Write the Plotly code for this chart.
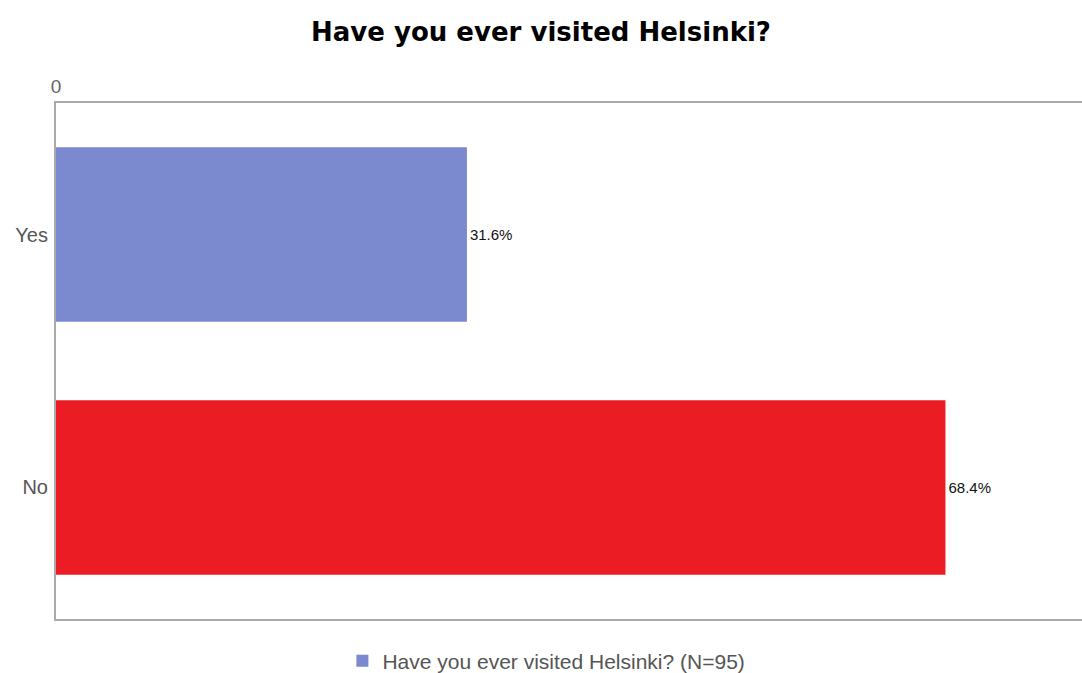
import plotly.graph_objects as go

# Survey answers and their share of respondents (%)
answers = ["Yes", "No"]
shares = [31.6, 68.4]
bar_colors = ["#7B89CE", "#EC1C24"]
series_name = "Have you ever visited Helsinki? (N=95)"
chart_title = "Have you ever visited Helsinki?"

fig = go.Figure()
fig.add_trace(go.Bar(
    y=answers,
    x=shares,
    orientation="h",
    name=series_name,
    marker=dict(color=bar_colors, line=dict(width=0)),
    width=0.69,
    text=[f"{v:.1f}%" for v in shares],
    textposition="outside",
    textfont=dict(family="Liberation Sans", size=15, color="#111111"),
    cliponaxis=False,
    showlegend=True,
))

fig.update_layout(
    width=1082,
    height=673,
    paper_bgcolor="white",
    plot_bgcolor="white",
    margin=dict(l=56, r=0, t=103, b=54),
    title=dict(
        text=f"<b>{chart_title}</b>",
        font=dict(family="DejaVu Sans", size=26, color="#000000"),
        x=0.5, xanchor="center",
        yref="container", y=1 - 32 / 673, yanchor="middle",
    ),
    xaxis=dict(
        side="top",
        range=[0, 78.9],
        tickvals=[0],
        ticktext=["0"],
        showgrid=False,
        zeroline=False,
        showline=True,
        mirror=True,
        linecolor="#AAAAAA",
        linewidth=2,
        ticks="",
        tickfont=dict(family="Liberation Sans", size=19, color="#666666"),
        fixedrange=True,
    ),
    yaxis=dict(
        type="category",
        range=[1.52, -0.52],
        showgrid=False,
        zeroline=False,
        showline=True,
        linecolor="#AAAAAA",
        linewidth=2,
        ticks="",
        ticklabelstandoff=2,
        tickfont=dict(family="Liberation Sans", size=20, color="#555555"),
        fixedrange=True,
    ),
    legend=dict(
        orientation="h",
        xref="container", x=0.505, xanchor="center",
        yref="container", y=1 - 661 / 673, yanchor="middle",
        font=dict(family="Liberation Sans", size=21, color="#555555"),
        itemwidth=30,
    ),
    bargap=0.3,
)

fig.write_html("out.html")
